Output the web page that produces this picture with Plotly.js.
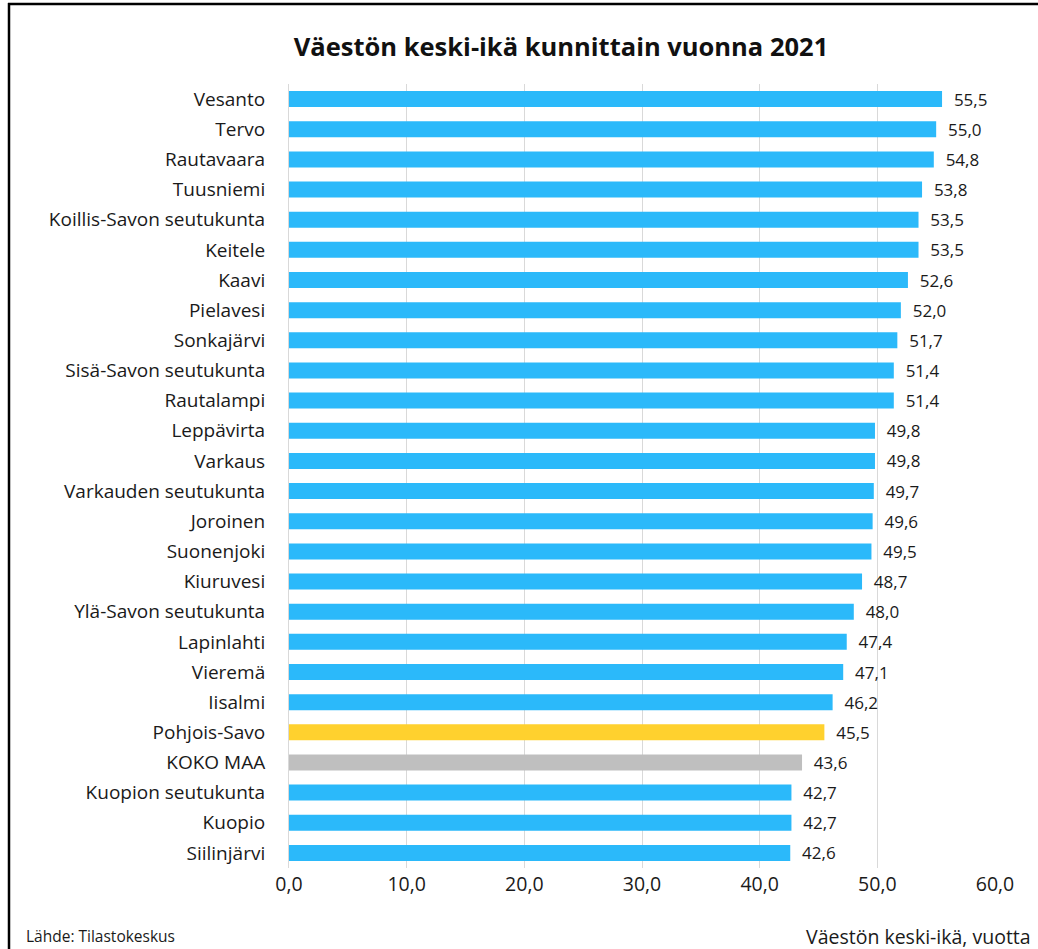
<!DOCTYPE html>
<html>
<head>
<meta charset="utf-8">
<script src="https://cdn.plot.ly/plotly-3.0.1.min.js"></script>
<style>
html,body{margin:0;padding:0;background:#fff;}
#chart{width:1038px;height:949px;}
</style>
</head>
<body>
<div id="chart"></div>
<script>
const categories = ["Vesanto","Tervo","Rautavaara","Tuusniemi","Koillis-Savon seutukunta","Keitele","Kaavi","Pielavesi","Sonkajärvi","Sisä-Savon seutukunta","Rautalampi","Leppävirta","Varkaus","Varkauden seutukunta","Joroinen","Suonenjoki","Kiuruvesi","Ylä-Savon seutukunta","Lapinlahti","Vieremä","Iisalmi","Pohjois-Savo","KOKO MAA","Kuopion seutukunta","Kuopio","Siilinjärvi"];
const values = [55.5,55.0,54.8,53.8,53.5,53.5,52.6,52.0,51.7,51.4,51.4,49.8,49.8,49.7,49.6,49.5,48.7,48.0,47.4,47.1,46.2,45.5,43.6,42.7,42.7,42.6];
const barColors = categories.map(c => c === "Pohjois-Savo" ? "#FFD12E" : (c === "KOKO MAA" ? "#BFBFBF" : "#2BB9FA"));
const xTicks = [0,10,20,30,40,50,60];

const W = 1038, H = 949;
const L = 289, R = 43, T = 84, B = 81;
const pw = W - L - R, ph = H - T - B;
const px = v => (v - L) / pw;
const py = v => (H - B - v) / ph;
const FONT = "Open Sans, Noto Sans, sans-serif";

const trace = {
  type: "bar",
  orientation: "h",
  y: categories,
  x: values,
  marker: {color: barColors, line: {width: 0}},
  width: 0.53,
  texttemplate: "\u00a0\u00a0%{x:.1f}",
  textposition: "outside",
  constraintext: "none",
  cliponaxis: false,
  textfont: {family: FONT, size: 17, color: "#1a1a1a"},
  hoverinfo: "skip"
};

const layout = {
  width: W, height: H,
  margin: {l: L, r: R, t: T, b: B, pad: 0},
  paper_bgcolor: "#fff",
  plot_bgcolor: "#fff",
  separators: ",.",
  showlegend: false,
  bargap: 0.47,
  title: {
    text: "<b>Väestön keski-ikä kunnittain vuonna 2021</b>",
    font: {family: FONT, size: 25.5, color: "#111"},
    x: 561 / W, xref: "container", xanchor: "center",
    y: 1 - 47 / H, yref: "container", yanchor: "middle"
  },
  xaxis: {
    range: [0, 60],
    tickvals: xTicks,
    tickformat: ".1f",
    showgrid: true,
    gridcolor: "#D9D9D9",
    gridwidth: 1,
    zeroline: false,
    showline: false,
    ticks: "",
    tickfont: {family: FONT, size: 19.5, color: "#1a1a1a"},
    ticklabelstandoff: 2,
    fixedrange: true
  },
  yaxis: {
    type: "category",
    autorange: "reversed",
    showgrid: false,
    zeroline: false,
    showline: true,
    linecolor: "#D9D9D9",
    linewidth: 1,
    ticks: "",
    ticklabelstandoff: 19,
    tickfont: {family: FONT, size: 19, color: "#1a1a1a"},
    fixedrange: true
  },
  annotations: [
    {
      text: "Väestön keski-ikä, vuotta",
      xref: "paper", yref: "paper",
      x: px(1033), y: py(936),
      xanchor: "right", yanchor: "middle",
      showarrow: false,
      font: {family: FONT, size: 19.5, color: "#1a1a1a"}
    },
    {
      text: "Lähde: Tilastokeskus",
      xref: "paper", yref: "paper",
      x: px(24), y: py(936),
      xanchor: "left", yanchor: "middle",
      showarrow: false,
      font: {family: FONT, size: 15.5, color: "#1a1a1a"}
    }
  ],
  shapes: [
    {type: "line", xref: "paper", yref: "paper", x0: px(9), x1: px(9), y0: py(3), y1: py(949), line: {color: "#000", width: 2.5}},
    {type: "line", xref: "paper", yref: "paper", x0: px(8), x1: px(1038), y0: py(4), y1: py(4), line: {color: "#000", width: 2.5}}
  ]
};

Plotly.newPlot("chart", [trace], layout, {staticPlot: true, displayModeBar: false});
</script>
</body>
</html>
